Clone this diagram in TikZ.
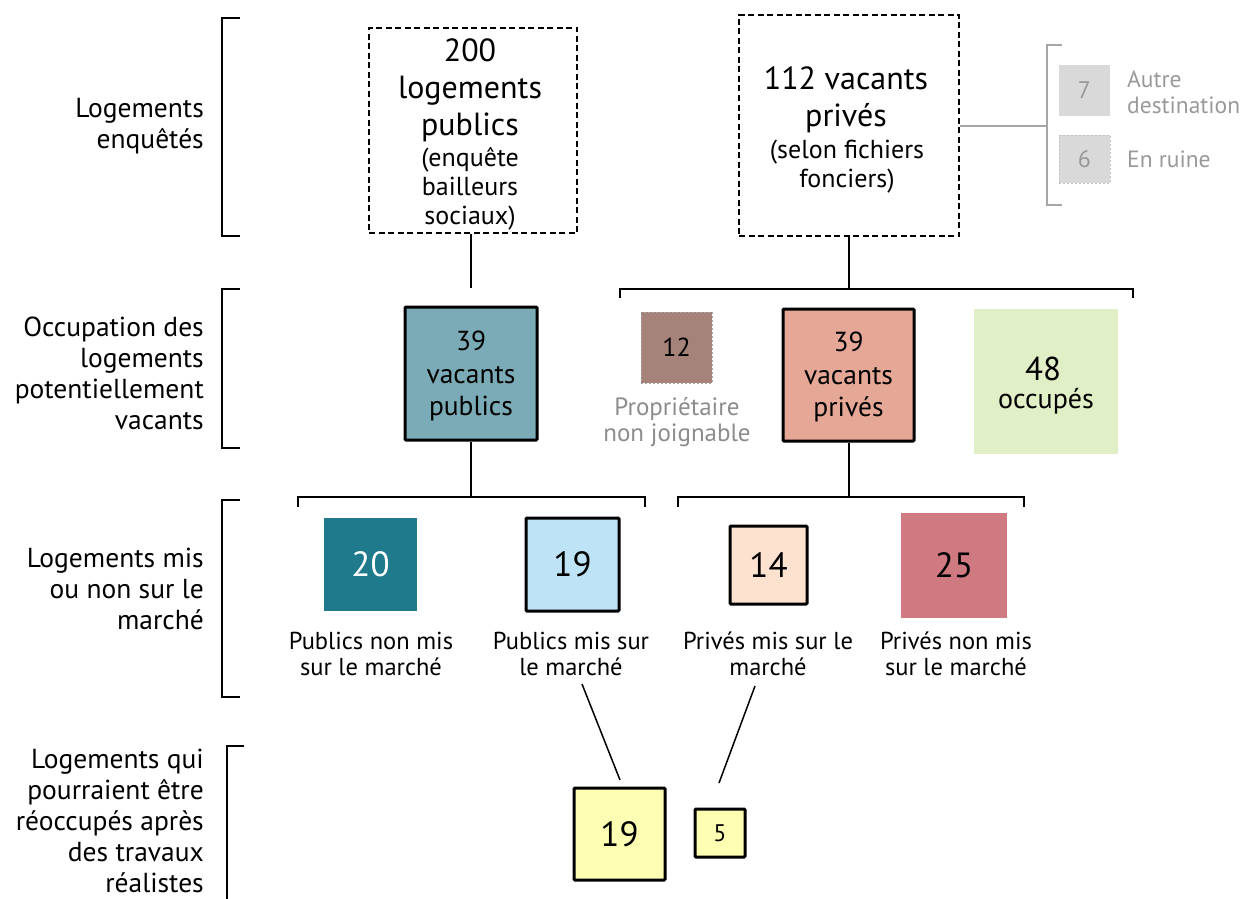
\documentclass[tikz,border=0pt]{standalone}
\usepackage{fontspec}
\setmainfont{PT Sans}
\definecolor{cP39}{HTML}{7AABB6}
\definecolor{cV39}{HTML}{E5A897}
\definecolor{c12}{HTML}{A6837A}
\definecolor{c48}{HTML}{E0EFC6}
\definecolor{c20}{HTML}{1F7A8C}
\definecolor{c19}{HTML}{BEE3F6}
\definecolor{c14}{HTML}{FDE3CF}
\definecolor{c25}{HTML}{CF7A80}
\definecolor{cY}{HTML}{FFFFB3}
\definecolor{cGbox}{HTML}{D9D9D9}
\definecolor{cGtxt}{HTML}{999999}
\definecolor{cGlab}{HTML}{8C8C8C}
\definecolor{cGline}{HTML}{A6A6A6}
\tikzset{
  lab/.style={anchor=east, align=right, font=\fontsize{27.5}{31}\selectfont, inner sep=0pt},
  topbox/.style={draw, dash pattern=on 6pt off 3.5pt, line width=1.5pt, align=center, inner sep=0pt},
  topbig/.style={align=center, inner sep=0pt, font=\fontsize{32}{37}\selectfont},
  topsmall/.style={align=center, inner sep=0pt, font=\fontsize{26}{29}\selectfont},
  thickbox/.style={draw, line width=3pt, align=center, inner sep=0pt, rounded corners=1pt},
  plainbox/.style={align=center, inner sep=0pt},
  captxt/.style={align=center, inner sep=0pt, font=\fontsize{24.5}{26}\selectfont},
  numf/.style={font=\fontsize{35}{38}\selectfont},
  conn/.style={line width=1.5pt},
  brk/.style={line width=1.5pt},
}
\begin{document}
\begin{tikzpicture}[x=1pt,y=-1pt]
\useasboundingbox (0,0) rectangle (1240,899);
% left labels
\node[lab] (l1) at (204,126) {Logements\\enquêtés};
\node[lab] (l2) at (204,373) {Occupation des\\logements\\potentiellement\\vacants};
\node[lab] (l3) at (204,589) {Logements mis\\ou non sur le\\marché};
\node[lab] (l4) at (204,821) {Logements qui\\pourraient être\\réoccupés après\\des travaux\\réalistes};
% left brackets
\draw[brk] (240,18)--(222,18)--(222,236)--(240,236);
\draw[brk] (240,289)--(222,289)--(222,448)--(240,448);
\draw[brk] (240,500)--(222,500)--(222,697)--(240,697);
\draw[brk] (244,746)--(227,746)--(227,905);
% top boxes
\node[topbox, minimum width=208, minimum height=205] (pub) at (473,130.5) {};
\node[topbig] (pubt) at (470,90) {200\\logements\\publics};
\node[topsmall] (pubs) at (470,189) {(enquête\\bailleurs\\sociaux)};
\node[topbox, minimum width=220, minimum height=221] (prv) at (849,125.5) {};
\node[topbig] (prvt) at (846,100) {112 vacants\\privés};
\node[topsmall] (prvs) at (847,167) {(selon fichiers\\fonciers)};
% grey side
\node[plainbox, fill=cGbox, minimum width=51, minimum height=51, text=cGtxt, font=\fontsize{24}{26}\selectfont] (g7) at (1084.5,90.5) {7};
\node[plainbox, fill=cGbox, draw=cGbox!75!gray, dash pattern=on 2pt off 2pt, line width=1pt, minimum width=51, minimum height=48, text=cGtxt, font=\fontsize{24}{26}\selectfont] (g6) at (1084.5,159) {6};
\node[anchor=west, align=left, inner sep=0pt, text=cGtxt, font=\fontsize{23.5}{26}\selectfont] (t7) at (1127,92) {Autre\\destination};
\node[anchor=west, inner sep=0pt, text=cGtxt, font=\fontsize{23.5}{26}\selectfont] (t6) at (1127,159) {En ruine};
\coordinate (gb) at (1047,126);
\draw[line width=1.5pt, cGline] (prv.east |- gb) -- (gb);
\draw[line width=1.5pt, cGline] (1062,45)--(1047,45)--(1047,205)--(1062,205);
% row 2
\node[thickbox, fill=cP39, minimum width=132, minimum height=133] (p39) at (471,373.5) {};
\node[align=center, inner sep=0pt, font=\fontsize{27.5}{32.5}\selectfont] (p39t) at (471,376) {39\\vacants\\publics};
\node[plainbox, fill=c12, draw=cGline, dash pattern=on 2pt off 2pt, line width=1pt, minimum width=71, minimum height=71, font=\fontsize{26}{28}\selectfont] (n12) at (676.5,347.5) {12};
\node[captxt, text=cGlab, font=\fontsize{25}{26}\selectfont] (t12) at (677,422) {Propriétaire\\non joignable};
\node[thickbox, fill=cV39, minimum width=131, minimum height=132] (v39) at (848.5,375) {};
\node[align=center, inner sep=0pt, font=\fontsize{27.5}{32.5}\selectfont] (v39t) at (848.5,377) {39\\vacants\\privés};
\node[plainbox, fill=c48, minimum width=144, minimum height=145] (o48) at (1046,381.5) {};
\node[align=center, inner sep=0pt, font=\fontsize{33}{34}\selectfont] (o48a) at (1043,369) {48};
\node[align=center, inner sep=0pt, font=\fontsize{28}{30}\selectfont] (o48b) at (1046,401) {occupés};
% connectors row1 -> row2
\coordinate (c1) at (471,288);
\draw[conn] (pub.south -| c1) -- (c1);
\coordinate (c2) at (849,289);
\draw[conn] (prv.south -| c2) -- (c2);
\draw[brk] (620,298)--(620,289)--(1133,289)--(1133,298);
% row 3
\coordinate (c3) at (471,497);
\draw[conn] (p39.south -| c3) -- (c3);
\draw[brk] (298,507)--(298,497)--(645,497)--(645,507);
\coordinate (c4) at (849,497);
\draw[conn] (v39.south -| c4) -- (c4);
\draw[brk] (678,507)--(678,497)--(1024,497)--(1024,507);
\node[plainbox, numf, fill=c20, text=white, minimum width=93, minimum height=93] (b20) at (370.5,564.5) {20};
\node[thickbox, numf, fill=c19, minimum width=93, minimum height=93] (b19) at (572.5,564.5) {19};
\node[thickbox, numf, fill=c14, minimum width=77, minimum height=78] (b14) at (768.5,565) {14};
\node[plainbox, numf, fill=c25, minimum width=106, minimum height=105] (b25) at (954,565.5) {25};
\node[captxt] (t20) at (371,654) {Publics non mis\\sur le marché};
\node[captxt] (t19) at (571,654) {Publics mis sur\\le marché};
\node[captxt] (t14) at (768,654) {Privés mis sur le\\marché};
\node[captxt] (t25) at (956,654) {Privés non mis\\sur le marché};
% row 4
\node[thickbox, numf, fill=cY, minimum width=91, minimum height=92] (y19) at (619.5,834) {19};
\node[thickbox, fill=cY, minimum width=50, minimum height=48, font=\fontsize{24}{26}\selectfont] (y5) at (720,833) {5};
\coordinate (d1) at (582,684);
\coordinate (d2) at (620,780);
\coordinate (d3) at (755,686);
\coordinate (d4) at (719,783);
\draw[conn] (d1) -- (d2);
\draw[conn] (d3) -- (d4);
\end{tikzpicture}
\end{document}
